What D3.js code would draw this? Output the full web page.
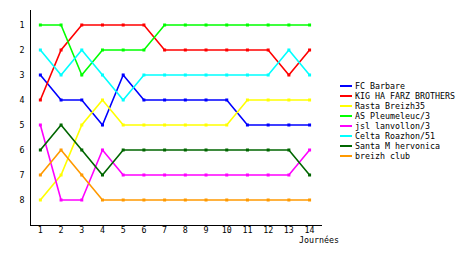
<!DOCTYPE html>
<html>
<head>
<meta charset="utf-8">
<script src="https://cdn.jsdelivr.net/npm/d3@7"></script>
<style>
  body { margin: 0; background: #fff; }
  text { font-family: "DejaVu Sans Mono", monospace; font-size: 8.3px; fill: #000; }
</style>
</head>
<body>
<div id="chart"></div>
<script>
window.onload = function() {

	const days = [1, 2, 3, 4, 5, 6, 7, 8, 9, 10, 11, 12, 13, 14];
	const ranks = [1, 2, 3, 4, 5, 6, 7, 8];
	const teams = ['FC Barbare', 'KIG HA FARZ BROTHERS', 'Rasta Breizh35', 'AS Pleumeleuc/3',
		'jsl lanvollon/3', 'Celta Roazhon/51', 'Santa M hervonica', 'breizh club'];
	const colors = ['#0000ff', '#ff0000', '#ffff00', '#00ff00', '#ff00ff', '#00ffff', '#006600', '#ff9900'];

	const fcBarbare = [3, 4, 4, 5, 3, 4, 4, 4, 4, 4, 5, 5, 5, 5];
	const kigHaFarz = [4, 2, 1, 1, 1, 1, 2, 2, 2, 2, 2, 2, 3, 2];
	const rastaBreizh = [8, 7, 5, 4, 5, 5, 5, 5, 5, 5, 4, 4, 4, 4];
	const asPleumeleuc = [1, 1, 3, 2, 2, 2, 1, 1, 1, 1, 1, 1, 1, 1];
	const jslLanvollon = [5, 8, 8, 6, 7, 7, 7, 7, 7, 7, 7, 7, 7, 6];
	const celtaRoazhon = [2, 3, 2, 3, 4, 3, 3, 3, 3, 3, 3, 3, 2, 3];
	const santaM = [6, 5, 6, 7, 6, 6, 6, 6, 6, 6, 6, 6, 6, 7];
	const breizhClub = [7, 6, 7, 8, 8, 8, 8, 8, 8, 8, 8, 8, 8, 8];

	const series = [fcBarbare, kigHaFarz, rastaBreizh, asPleumeleuc, jslLanvollon, celtaRoazhon, santaM, breizhClub];

	const width = 460;
	const height = 255;

	const svg = d3.select('#chart')
		.append('svg')
		.attr('width', width)
		.attr('height', height)

	const xScale = d3.scaleLinear()
		.domain([0.5, 14.6])
		.range([30, 322])

	const yScale = d3.scaleLinear()
		.domain([0, 9])
		.range([0, 225])

	// axes lines
	svg.append('line')
		.attr('x1', 30.5).attr('x2', 30.5)
		.attr('y1', yScale(0.4)).attr('y2', yScale(9))
		.attr('stroke', '#000').attr('stroke-width', 1)
		.attr('shape-rendering', 'crispEdges')

	svg.append('line')
		.attr('x1', 30).attr('x2', 322)
		.attr('y1', yScale(9) + 0.5).attr('y2', yScale(9) + 0.5)
		.attr('stroke', '#000').attr('stroke-width', 1)
		.attr('shape-rendering', 'crispEdges')

	svg.selectAll('.ylab')
		.data(ranks)
		.enter()
		.append('text')
		.attr('class', 'ylab')
		.attr('x', 22)
		.attr('y', d => yScale(d) + 3)
		.attr('text-anchor', 'middle')
		.text(d => d)

	svg.selectAll('.xlab')
		.data(days)
		.enter()
		.append('text')
		.attr('class', 'xlab')
		.attr('x', d => xScale(d))
		.attr('y', 233)
		.attr('text-anchor', 'middle')
		.text(d => d)

	svg.append('text')
		.attr('x', 299)
		.attr('y', 243)
		.text('Journées')

	const line = d3.line()
		.x((d, i) => xScale(days[i]))
		.y(d => yScale(d));

	series.forEach((values, k) => {
		svg.append('path')
			.attr('d', line(values))
			.attr('fill', 'none')
			.attr('stroke', colors[k])
			.attr('stroke-width', 1.6)

		svg.selectAll('.pt' + k)
			.data(values)
			.enter()
			.append('rect')
			.attr('x', (d, i) => xScale(days[i]) - 1.5)
			.attr('y', d => yScale(d) - 1.5)
			.attr('width', 3)
			.attr('height', 3)
			.attr('fill', colors[k])
	});

	// legend
	const legend = svg.selectAll('.legend')
		.data(teams)
		.enter()
		.append('g')
		.attr('transform', (d, i) => `translate(340, ${86 + i * 10})`)

	legend.append('rect')
		.attr('x', 0).attr('y', -1)
		.attr('width', 12).attr('height', 2)
		.attr('fill', (d, i) => colors[i])

	legend.append('text')
		.attr('x', 15)
		.attr('y', 3)
		.text(d => d)
}
</script>
</body>
</html>
